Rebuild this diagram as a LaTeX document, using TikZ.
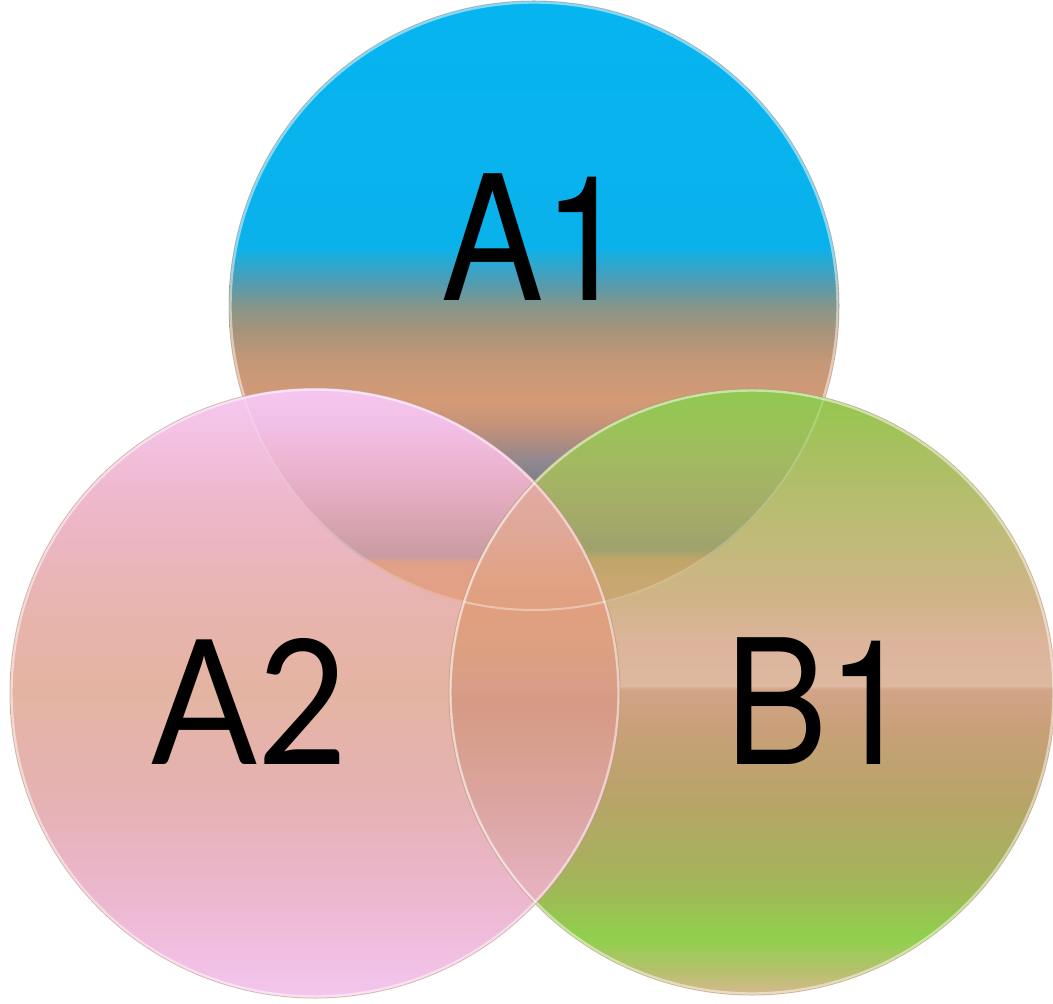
\documentclass[tikz,border=0pt]{standalone}
\usepackage{fontspec}
\newfontfamily\arialf[FakeStretch=0.88]{TeX Gyre Heros}
\newfontfamily\gillf[FakeStretch=0.9]{Lato}
% A1 colours (visible part)
\definecolor{aa1}{HTML}{7C8088}
\definecolor{aa2}{HTML}{908890}
\definecolor{aa3}{HTML}{B08C80}
\definecolor{aa4}{HTML}{C89478}
\definecolor{aa5}{HTML}{D49A76}
\definecolor{aa8}{HTML}{C49878}
\definecolor{aa9}{HTML}{A6947A}
\definecolor{aa10}{HTML}{85968A}
\definecolor{aa11}{HTML}{5A9AAA}
\definecolor{aa12}{HTML}{30A6CC}
\definecolor{aa13}{HTML}{0AB2EC}
\definecolor{aa14}{HTML}{06B4F0}
% A2 colours
\definecolor{ab1}{HTML}{F4C6EE}
\definecolor{ab2}{HTML}{F0BEE0}
\definecolor{ab3}{HTML}{ECB8D0}
\definecolor{ab4}{HTML}{E6B2B4}
\definecolor{ab5}{HTML}{E4B4A2}
\definecolor{ab6}{HTML}{E8B4B0}
\definecolor{ab7}{HTML}{EEB8CC}
\definecolor{ab8}{HTML}{F6C8F2}
% B1 colours
\definecolor{bb1}{HTML}{D8B890}
\definecolor{bb2}{HTML}{B8C070}
\definecolor{bb3}{HTML}{90D04C}
\definecolor{bb4}{HTML}{A4B45A}
\definecolor{bb5}{HTML}{B8A468}
\definecolor{bb6}{HTML}{C8A078}
\definecolor{bb7}{HTML}{D2A488}
\definecolor{bb8}{HTML}{DEB8A0}
\definecolor{bb9}{HTML}{DCB49A}
\definecolor{bb10}{HTML}{D0B488}
\definecolor{bb11}{HTML}{BCBC74}
\definecolor{bb12}{HTML}{A8C060}
\definecolor{bb13}{HTML}{92C84C}
% A1 seen through A2
\definecolor{ca1}{HTML}{E4A084}
\definecolor{ca2}{HTML}{E0A088}
\definecolor{ca3}{HTML}{C89CA4}
\definecolor{ca4}{HTML}{CFA0A8}
\definecolor{ca5}{HTML}{DEA8B8}
\definecolor{ca6}{HTML}{E8B0C8}
\definecolor{ca7}{HTML}{EEB8D8}
\definecolor{ca8}{HTML}{F2C0E8}
\definecolor{ca9}{HTML}{F5C6F0}
% A1 seen through B1
\definecolor{cb1}{HTML}{C8A870}
\definecolor{cb2}{HTML}{C0A468}
\definecolor{cb3}{HTML}{A0A46C}
\definecolor{cb4}{HTML}{A4AC68}
\definecolor{cb5}{HTML}{A4B464}
\definecolor{cb6}{HTML}{A0BC5E}
\definecolor{cb7}{HTML}{98C456}
\definecolor{cb8}{HTML}{90C850}
% lens A2 with B1
\definecolor{cl1}{HTML}{E8B2C0}
\definecolor{cl2}{HTML}{E6B0BC}
\definecolor{cl3}{HTML}{E0ACB0}
\definecolor{cl4}{HTML}{DCA4A0}
\definecolor{cl5}{HTML}{D8A090}
\definecolor{cl6}{HTML}{D69A84}
\definecolor{cl7}{HTML}{D89E88}
\definecolor{cl8}{HTML}{DCA080}
\definecolor{cl9}{HTML}{E0A080}
\definecolor{cl10}{HTML}{E0A284}
\definecolor{cl11}{HTML}{E0A898}
\definecolor{cl12}{HTML}{E2AAA4}
\definecolor{edgec}{HTML}{B89070}
\pgfdeclareverticalshading{shAone}{100bp}{color(0bp)=(aa1); color(35.66bp)=(aa1); color(37.3bp)=(aa2); color(38.93bp)=(aa3); color(40.57bp)=(aa4); color(42.21bp)=(aa5); color(45.5bp)=(aa8); color(48bp)=(aa9); color(50bp)=(aa10); color(51.6bp)=(aa11); color(53.3bp)=(aa12); color(54.9bp)=(aa13); color(75bp)=(aa14); color(100bp)=(aa14)}
\pgfdeclareverticalshading{shAtwo}{100bp}{color(0bp)=(ab1); color(25bp)=(ab1); color(28.9bp)=(ab2); color(33bp)=(ab3); color(41.2bp)=(ab4); color(50.2bp)=(ab5); color(57.6bp)=(ab6); color(65.75bp)=(ab7); color(75bp)=(ab8); color(100bp)=(ab8)}
\pgfdeclareverticalshading{shBone}{100bp}{color(0bp)=(bb1); color(25bp)=(bb1); color(26.8bp)=(bb2); color(29.7bp)=(bb3); color(34.6bp)=(bb4); color(41.2bp)=(bb5); color(46.9bp)=(bb6); color(50.2bp)=(bb7); color(50.5bp)=(bb8); color(54.3bp)=(bb9); color(57.6bp)=(bb10); color(64.2bp)=(bb11); color(69.9bp)=(bb12); color(75bp)=(bb13); color(100bp)=(bb13)}
% overlap A1 & A2 (mapped on A2's box)
\pgfdeclareverticalshading{shAA}{100bp}{color(0bp)=(ca1); color(57.57bp)=(ca1); color(60.76bp)=(ca2); color(61.17bp)=(ca3); color(62.48bp)=(ca4); color(64.93bp)=(ca5); color(67.39bp)=(ca6); color(69.84bp)=(ca7); color(72.3bp)=(ca8); color(75bp)=(ca9); color(100bp)=(ca9)}
% overlap A1 & B1 (mapped on B1's box)
\pgfdeclareverticalshading{shAB}{100bp}{color(0bp)=(cb1); color(59.24bp)=(cb1); color(61.04bp)=(cb2); color(61.7bp)=(cb3); color(62.52bp)=(cb3); color(64.98bp)=(cb4); color(67.45bp)=(cb5); color(69.91bp)=(cb6); color(72.37bp)=(cb7); color(75bp)=(cb8); color(100bp)=(cb8)}
% lens A2 & B1 (mapped on A2's box)
\pgfdeclareverticalshading{shLens}{100bp}{color(0bp)=(cl1); color(30.56bp)=(cl1); color(34.66bp)=(cl2); color(37.11bp)=(cl3); color(41.2bp)=(cl4); color(45.29bp)=(cl5); color(49.39bp)=(cl6); color(50.54bp)=(cl7); color(53.48bp)=(cl8); color(56.75bp)=(cl9); color(59.2bp)=(cl10); color(63.3bp)=(cl11); color(67.6bp)=(cl12); color(100bp)=(cl12)}
\tikzset{
  rim/.style={draw=white, draw opacity=0.5, line width=1.2pt},
  faintrim/.style={draw=white, draw opacity=0.22, line width=1pt},
  outer/.style={draw=edgec, draw opacity=0.55, line width=0.5pt},
  lblArial/.style={anchor=base, inner sep=0pt, text=black, font=\arialf\fontsize{87}{87}\selectfont},
  lblGill/.style={anchor=base, inner sep=0pt, text=black, font=\gillf\fontsize{87}{87}\selectfont}
}
\begin{document}
\begin{tikzpicture}[x=0.5pt,y=-0.5pt]
\useasboundingbox (0,0) rectangle (1053,1004);
\coordinate (cA1) at (534,306);
\coordinate (cA2) at (315,693);
\coordinate (cB1) at (752,692);
% single circles
\shade[shading=shAone] (cA1) circle[radius=305];
\draw[outer] (cA1) circle[radius=305];
\draw[rim] (cA1) circle[radius=303.5];
\shade[shading=shBone] (cB1) circle[radius=303];
\shade[shading=shAtwo] (cA2) circle[radius=305];
% overlaps
\begin{scope}
  \clip (cA1) circle[radius=305];
  \shade[shading=shAA] (cA2) circle[radius=305];
\end{scope}
\begin{scope}
  \clip (cA1) circle[radius=305];
  \shade[shading=shAB] (cB1) circle[radius=303];
\end{scope}
\begin{scope}
  \clip (cB1) circle[radius=303];
  \shade[shading=shLens] (cA2) circle[radius=305];
\end{scope}
% faint edges seen through
\begin{scope}
  \clip (cA2) circle[radius=305];
  \draw[faintrim] (cA1) circle[radius=304];
  \draw[faintrim] (cB1) circle[radius=302];
\end{scope}
\begin{scope}
  \clip (cB1) circle[radius=303];
  \draw[faintrim] (cA1) circle[radius=304];
\end{scope}
% outer rims
\draw[outer] (cB1) circle[radius=303];
\draw[rim] (cB1) circle[radius=301.5];
\draw[outer] (cA2) circle[radius=305];
\draw[rim] (cA2) circle[radius=303.5];
% labels
\node[lblArial] (A1) at (535,301) {A1};
\node[lblGill] (A2) at (250,764) {A2};
\node[lblArial] (B1) at (819,764) {B1};
\end{tikzpicture}
\end{document}
